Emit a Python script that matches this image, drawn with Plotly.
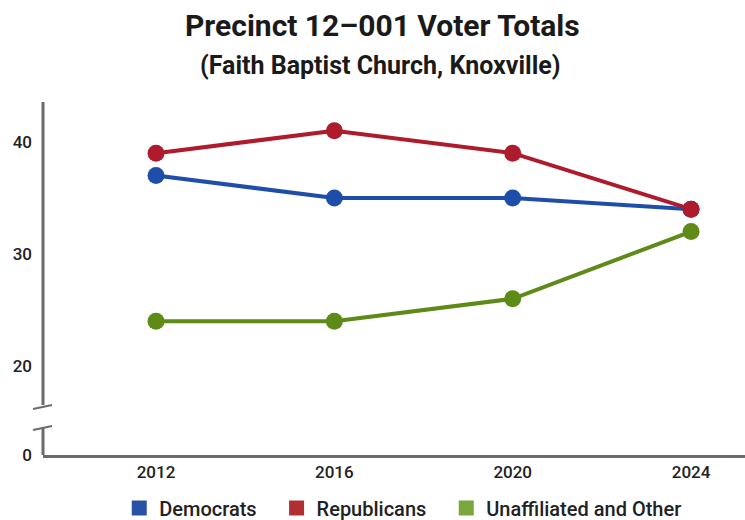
import plotly.graph_objects as go

years = [2012, 2016, 2020, 2024]
democrats = [37, 35, 35, 34]
republicans = [39, 41, 39, 34]
unaffiliated = [24, 24, 26, 32]

series_names = ["Democrats", "Republicans", "Unaffiliated and Other"]
line_colors = ["#1f4eaa", "#ae1b2c", "#5e8a17"]
legend_colors = ["#2852a6", "#b02f33", "#7aa63d"]

# Broken axis: the "0" label sits just below the break
y_tick_vals = [12.05, 20, 30, 40]
y_tick_text = ["0", "20", "30", "40"]

title_text = "Precinct 12–001 Voter Totals"
subtitle_text = "(Faith Baptist Church, Knoxville)"

FONT = "Roboto"
PLOT_H = 353

fig = go.Figure()
for vals, name, lc in zip([democrats, republicans, unaffiliated], series_names, line_colors):
    fig.add_trace(go.Scatter(
        x=years, y=vals, mode="lines+markers", name=name,
        line=dict(color=lc, width=4),
        marker=dict(color=lc, size=17),
        showlegend=False,
    ))
for name, c in zip(series_names, legend_colors):
    fig.add_trace(go.Scatter(
        x=[None], y=[None], mode="markers", name=name + "\u00a0\u00a0\u00a0",
        marker=dict(color=c, size=15, symbol="square"),
        showlegend=True,
    ))

axis_col = "#6b6b6b"
shapes = [
    dict(type="line", xref="paper", yref="paper", x0=0, x1=0, y0=1, y1=(455-405)/PLOT_H,
         line=dict(color=axis_col, width=3)),
    dict(type="line", xref="paper", yref="paper", x0=0, x1=0, y0=(455-427)/PLOT_H, y1=0,
         line=dict(color=axis_col, width=3)),
    dict(type="line", xref="paper", yref="paper", x0=-10/702, x1=9/702,
         y0=(455-409)/PLOT_H, y1=(455-405)/PLOT_H, line=dict(color=axis_col, width=2)),
    dict(type="line", xref="paper", yref="paper", x0=-10/702, x1=9/702,
         y0=(455-430)/PLOT_H, y1=(455-426)/PLOT_H, line=dict(color=axis_col, width=2)),
]

annotations = [
    dict(text=f"<b>{title_text}</b>", xref="paper", yref="paper",
         x=(382-43)/702, y=(455-26)/PLOT_H, xanchor="center", yanchor="middle",
         showarrow=False, font=dict(family=FONT, size=30, color="#1a1a1a")),
    dict(text=f"<b>{subtitle_text}</b>", xref="paper", yref="paper",
         x=(380-43)/702, y=(455-65)/PLOT_H, xanchor="center", yanchor="middle",
         showarrow=False, font=dict(family=FONT, size=25, color="#1a1a1a")),
]

fig.update_layout(
    width=745, height=520,
    margin=dict(l=43, r=0, t=102, b=65),
    paper_bgcolor="white", plot_bgcolor="white",
    font=dict(family=FONT, color="#222222"),
    xaxis=dict(
        range=[2009.465, 2025.21], tickvals=years, ticktext=[str(y) for y in years],
        showgrid=False, zeroline=False, showline=True, linecolor=axis_col, linewidth=3,
        ticks="", automargin=False,
        tickfont=dict(size=17, color="#222222", family=FONT, weight=500),
    ),
    yaxis=dict(
        range=[12.05, 43.57], tickvals=y_tick_vals, ticktext=y_tick_text,
        showgrid=False, zeroline=False, showline=False, automargin=False,
        ticks="", ticklabelstandoff=10,
        tickfont=dict(size=17, color="#222222", family=FONT, weight=500),
    ),
    legend=dict(
        orientation="h", x=0.1086, xanchor="left",
        yref="container", y=(520-508)/520, yanchor="middle",
        font=dict(size=20, color="#222222", family=FONT, weight=500), itemwidth=30,
        tracegroupgap=0,
    ),
    shapes=shapes,
    annotations=annotations,
)

fig.write_html("out.html")
